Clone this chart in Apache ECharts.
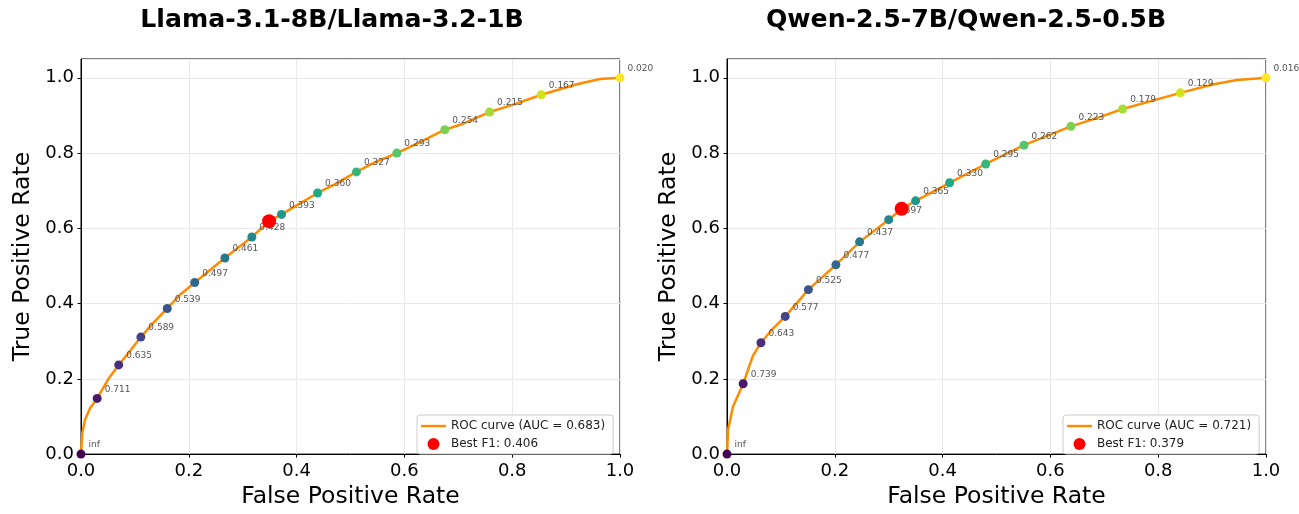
<!DOCTYPE html>
<html>
<head>
<meta charset="utf-8">
<script src="https://cdn.jsdelivr.net/npm/echarts@6/dist/echarts.min.js"></script>
<style>
html,body{margin:0;padding:0;background:#fff;overflow:hidden;}
#c{width:1299px;height:514px;}
</style>
</head>
<body>
<div id="c"></div>
<script>
// ---------- DATA ----------
const titles = ['Llama-3.1-8B/Llama-3.2-1B', 'Qwen-2.5-7B/Qwen-2.5-0.5B'];
const aucLabels = ['ROC curve (AUC = 0.683)', 'ROC curve (AUC = 0.721)'];
const bestLabels = ['Best F1: 0.406', 'Best F1: 0.379'];

// ROC curve traces (FPR, TPR)
const leftCurveFpr = [0, 0.0025, 0.0074, 0.0167, 0.030, 0.051, 0.070, 0.091, 0.111, 0.135, 0.160, 0.185, 0.211, 0.240, 0.267, 0.317, 0.349, 0.372, 0.405, 0.439, 0.475, 0.511, 0.545, 0.586, 0.630, 0.675, 0.709, 0.758, 0.805, 0.854, 0.920, 0.963, 1.0];
const leftCurveTpr = [0, 0.057, 0.091, 0.122, 0.148, 0.200, 0.237, 0.274, 0.311, 0.350, 0.387, 0.425, 0.456, 0.490, 0.521, 0.577, 0.619, 0.637, 0.665, 0.694, 0.720, 0.750, 0.775, 0.800, 0.830, 0.862, 0.878, 0.909, 0.930, 0.955, 0.983, 0.997, 1.0];
const rightCurveFpr = [0, 0.002, 0.011, 0.030, 0.048, 0.063, 0.085, 0.108, 0.130, 0.151, 0.202, 0.246, 0.300, 0.324, 0.350, 0.413, 0.480, 0.551, 0.638, 0.690, 0.734, 0.841, 0.903, 0.946, 1.0];
const rightCurveTpr = [0, 0.065, 0.126, 0.187, 0.261, 0.296, 0.333, 0.366, 0.402, 0.437, 0.503, 0.564, 0.623, 0.652, 0.673, 0.721, 0.771, 0.821, 0.871, 0.895, 0.917, 0.960, 0.983, 0.994, 1.0];

// Threshold markers
const leftFpr = [0, 0.030, 0.070, 0.111, 0.160, 0.211, 0.267, 0.317, 0.372, 0.439, 0.511, 0.586, 0.675, 0.758, 0.854, 1.0];
const leftTpr = [0, 0.148, 0.237, 0.311, 0.387, 0.456, 0.521, 0.577, 0.637, 0.694, 0.750, 0.800, 0.862, 0.909, 0.955, 1.0];
const leftThr = ['inf', '0.711', '0.635', '0.589', '0.539', '0.497', '0.461', '0.428', '0.393', '0.360', '0.327', '0.293', '0.254', '0.215', '0.167', '0.020'];
const rightFpr = [0, 0.030, 0.063, 0.108, 0.151, 0.202, 0.246, 0.300, 0.350, 0.413, 0.480, 0.551, 0.638, 0.734, 0.841, 1.0];
const rightTpr = [0, 0.187, 0.296, 0.366, 0.437, 0.503, 0.564, 0.623, 0.673, 0.721, 0.771, 0.821, 0.871, 0.917, 0.960, 1.0];
const rightThr = ['inf', '0.739', '0.643', '0.577', '0.525', '0.477', '0.437', '0.397', '0.365', '0.330', '0.295', '0.262', '0.223', '0.179', '0.129', '0.016'];

// Best F1 points
const bestFpr = [0.349, 0.324];
const bestTpr = [0.619, 0.652];

const viridis = ['#440154', '#481a6c', '#472f7d', '#414487', '#39568c', '#31688e', '#2a788e', '#23888e', '#1f988b', '#22a884', '#35b779', '#54c568', '#7ad151', '#a5db36', '#d2e21b', '#fde725'];

// ---------- CHART ----------
const FONT = 'DejaVu Sans';
const gridLefts = [81, 727];
const titleCenters = [327, 961];
const legendLefts = [417, 1063];

function pairs(xs, ys) { return xs.map((x, i) => [x, ys[i]]); }

const grids = [], xAxes = [], yAxes = [], series = [], titleArr = [], legends = [];
const curves = [[leftCurveFpr, leftCurveTpr], [rightCurveFpr, rightCurveTpr]];
const marks = [[leftFpr, leftTpr, leftThr], [rightFpr, rightTpr, rightThr]];

for (let k = 0; k < 2; k++) {
  grids.push({ left: gridLefts[k], top: 59, width: 539, height: 403, show: true, borderColor: '#000', borderWidth: 1, backgroundColor: '#fff' });
  titleArr.push({ text: titles[k], left: titleCenters[k], top: 3, textAlign: 'center',
    textStyle: { fontFamily: FONT, fontSize: 25.2, fontWeight: 'bold', color: '#000' } });
  xAxes.push({ gridIndex: k, type: 'value', min: 0, max: 1, interval: 0.2,
    name: 'False Positive Rate', nameLocation: 'middle', nameGap: 25,
    nameTextStyle: { fontFamily: FONT, fontSize: 23.5, color: '#000' },
    axisLine: { show: true, onZero: false, lineStyle: { color: '#000', width: 1 } },
    axisTick: { show: true, length: 3.5, lineStyle: { color: '#000' } },
    axisLabel: { fontFamily: FONT, fontSize: 18, color: '#000', margin: 8, formatter: v => v.toFixed(1) },
    splitLine: { show: true, lineStyle: { color: '#e8e8e8', width: 1 } } });
  yAxes.push({ gridIndex: k, type: 'value', min: 0, max: 1.05, interval: 0.2,
    name: 'True Positive Rate', nameLocation: 'middle', nameGap: 46,
    nameTextStyle: { fontFamily: FONT, fontSize: 23.5, color: '#000' },
    axisLine: { show: true, onZero: false, lineStyle: { color: '#000', width: 1 } },
    axisTick: { show: true, length: 3.5, lineStyle: { color: '#000' } },
    axisLabel: { fontFamily: FONT, fontSize: 18, color: '#000', margin: 7, showMaxLabel: false, formatter: v => v.toFixed(1) },
    splitLine: { show: true, lineStyle: { color: '#e8e8e8', width: 1 } } });

  series.push({ name: aucLabels[k], type: 'line', xAxisIndex: k, yAxisIndex: k,
    data: pairs(curves[k][0], curves[k][1]), showSymbol: false, symbol: 'none',
    lineStyle: { color: '#ff8c00', width: 2.5 }, itemStyle: { color: '#ff8c00' }, z: 2, animation: false });

  const [fx, fy, th] = marks[k];
  series.push({ name: 'thr' + k, type: 'scatter', xAxisIndex: k, yAxisIndex: k,
    data: fx.map((x, i) => ({ value: [x, fy[i]], itemStyle: { color: viridis[i], opacity: 1 },
      label: { formatter: th[i] } })),
    symbolSize: 9, z: 3, clip: false, animation: false,
    label: { show: true, position: 'right', distance: 0, offset: [3, -9],
      fontFamily: FONT, fontSize: 9, color: '#555' } });

  series.push({ name: bestLabels[k], type: 'scatter', xAxisIndex: k, yAxisIndex: k,
    data: [[bestFpr[k], bestTpr[k]]], symbolSize: 14, itemStyle: { color: '#ff0000', opacity: 1 }, z: 4, animation: false });

  legends.push({ data: [
      { name: aucLabels[k], icon: 'path://M0,0 L25,0 L25,2.4 L0,2.4 Z' },
      { name: bestLabels[k], icon: 'circle' }],
    left: legendLefts[k], top: 415, orient: 'vertical', itemWidth: 25, itemHeight: 12, itemGap: 6,
    padding: [5, 8, 4, 4], backgroundColor: 'rgba(255,255,255,0.85)', borderColor: '#cccccc', borderWidth: 1, borderRadius: 3,
    textStyle: { fontFamily: FONT, fontSize: 12, color: '#222' }, selectedMode: false });
}

const chart = echarts.init(document.getElementById('c'));
chart.setOption({
  animation: false,
  backgroundColor: '#fff',
  title: titleArr,
  grid: grids,
  xAxis: xAxes,
  yAxis: yAxes,
  legend: legends,
  series: series
});
</script>
</body>
</html>
